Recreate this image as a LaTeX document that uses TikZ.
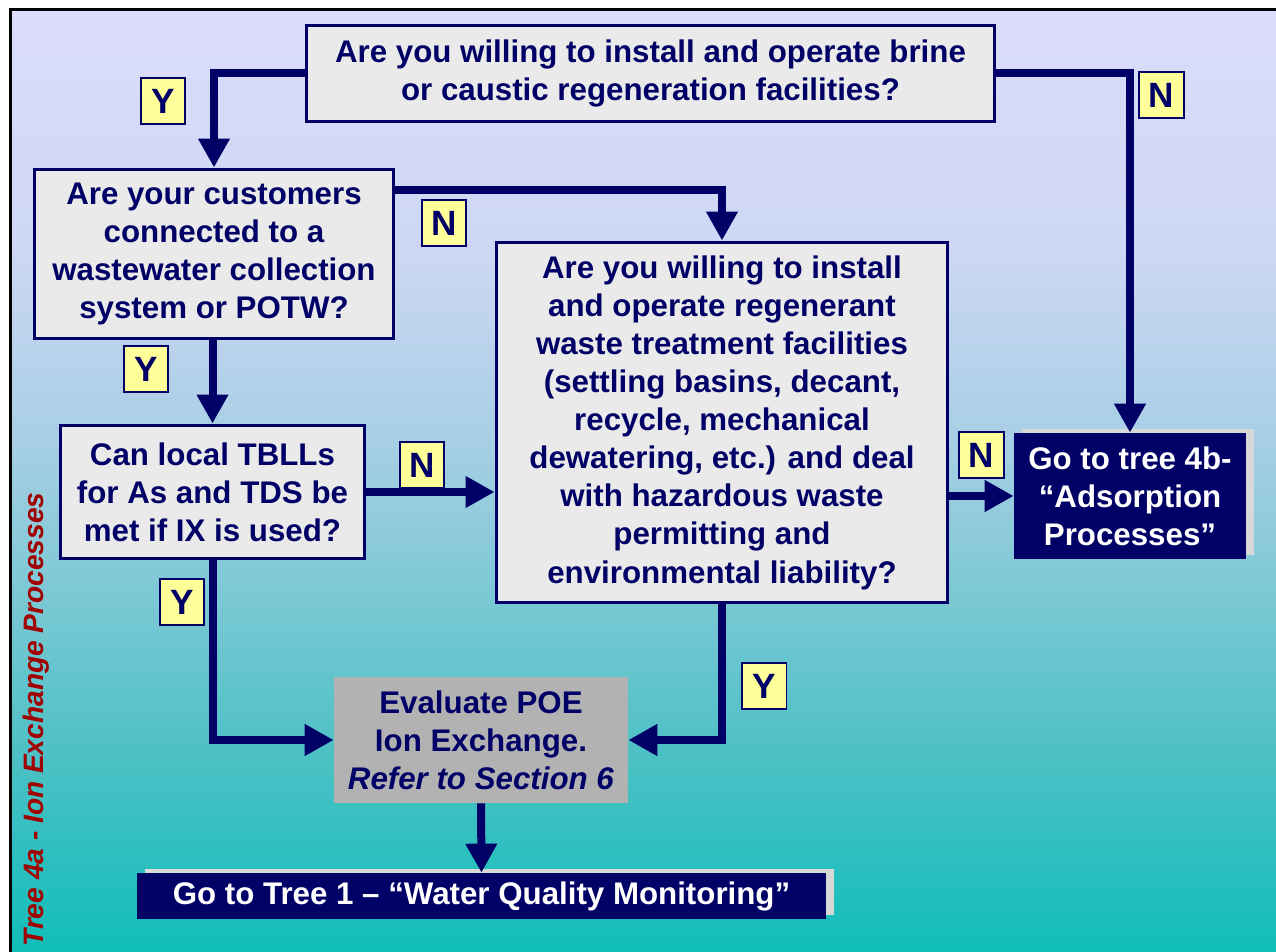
\documentclass[tikz,border=0pt]{standalone}
\usepackage{fontspec}
\setmainfont{Liberation Sans}
\usepackage{xcolor}
\usepackage{tikz}
\usetikzlibrary{arrows.meta,positioning,calc,shadows}
\definecolor{navy}{RGB}{0,0,102}
\definecolor{qgray}{RGB}{234,234,234}
\definecolor{evalgray}{RGB}{178,178,178}
\definecolor{lblyellow}{RGB}{255,255,153}
\definecolor{shadowgray}{RGB}{216,216,216}
\definecolor{sidered}{RGB}{160,0,0}
\definecolor{bgA}{RGB}{220,220,252}
\definecolor{bgB}{RGB}{205,215,245}
\definecolor{bgC}{RGB}{165,206,228}
\definecolor{bgD}{RGB}{122,200,212}
\definecolor{bgE}{RGB}{72,192,196}
\definecolor{bgF}{RGB}{16,190,186}
\pgfdeclareverticalshading{bgfade}{100bp}{color(0bp)=(bgF); color(25bp)=(bgF);
  color(34.7bp)=(bgE); color(43.7bp)=(bgD); color(51.6bp)=(bgC);
  color(62.3bp)=(bgB); color(75bp)=(bgA); color(100bp)=(bgA)}
\tikzset{
  qbox/.style={draw=navy, line width=0.06cm, fill=qgray, text=navy, inner sep=0pt, align=center},
  evalbox/.style={fill=evalgray, text=navy, inner sep=0pt, align=center},
  gobox/.style={fill=navy, text=white, inner sep=0pt, align=center,
    drop shadow={shadow xshift=4.5pt, shadow yshift=2.3pt, fill=shadowgray, opacity=1}},
  lbl/.style={draw=navy, line width=0.04cm, fill=lblyellow, text=navy, inner sep=0pt,
    minimum width=0.9cm, minimum height=0.92cm, font=\fontsize{20}{24}\selectfont\bfseries},
  arr/.style={-{Triangle[width=0.6cm, length=0.58cm]}, navy, line width=0.16cm},
}

\begin{document}
\begin{tikzpicture}[x=0.02cm, y=-0.02cm, font=\fontsize{17.8}{21.7}\selectfont\bfseries]
  \useasboundingbox (0,0) rectangle (1276,952);
  \fill[white] (0,0) rectangle (1276,952);
  \shade[shading=bgfade] (11,10) rectangle (1276,952);
  \draw[black, line width=0.07cm] (10.5,970) |- (1290,9.5);

  \node[qbox, minimum width=13.78cm, minimum height=1.94cm] (q1) at (650.5,73.5)
    {Are you willing to install and operate brine\\or caustic regeneration facilities?};
  \node[qbox, minimum width=7.2cm, minimum height=3.4cm] (q2) at (214,254)
    {Are your customers\\connected to a\\wastewater collection\\system or POTW?};
  \node[qbox, minimum width=6.1cm, minimum height=2.68cm] (q3) at (212.5,492)
    {Can local TBLLs\\for As and TDS be\\met if IX is used?};
  \node[qbox, minimum width=9.04cm, minimum height=7.22cm] (q4) at (722,422.5)
    {Are you willing to install\\and operate regenerant\\waste treatment facilities\\(settling basins, decant,\\recycle, mechanical\\dewatering, etc.) and deal\\with hazardous waste\\permitting and\\environmental liability?};
  \node[evalbox, minimum width=5.88cm, minimum height=2.52cm] (eval) at (481,740)
    {Evaluate POE\\Ion Exchange.\\\textit{Refer to Section 6}};
  \node[gobox, minimum width=4.64cm, minimum height=2.52cm] (go4b) at (1130,496)
    {Go to tree 4b-\\“Adsorption\\Processes”};
  \node[gobox, minimum width=13.78cm, minimum height=0.92cm] (go1) at (481.5,896)
    {Go to Tree 1 – “Water Quality Monitoring”};

  \node[rotate=90, anchor=base west, inner sep=0pt, text=sidered,
    font=\fontsize{16}{19}\selectfont\bfseries\itshape] (side) at (43,947)
    {Tree 4a - Ion Exchange Processes};

  \draw[arr] (q1.west) -| (q2.north);
  \draw[arr] (q1.east) -| (go4b.north);
  \draw[arr] ($(q2.north east)+(0,22)$) -| (q4.north);
  \draw[arr] (q3.north |- q2.south) -- (q3.north);
  \draw[arr] (q3.east) -- (q3.east -| q4.west);
  \draw[arr] (q3.south) |- (eval.west);
  \draw[arr] (q4.south) |- (eval.east);
  \draw[arr] (q4.east |- go4b.west) -- (go4b.west);
  \draw[arr] (eval.south) -- (go1.north);

  \node[lbl] (y1) at (163,101) {Y};
  \node[lbl] (n1) at (1161,95) {N};
  \node[lbl] (n2) at (444,223) {N};
  \node[lbl] (y2) at (146,369) {Y};
  \node[lbl] (n3) at (422,465) {N};
  \node[lbl] (y3) at (182,602) {Y};
  \node[lbl] (n4) at (981,455) {N};
  \node[lbl] (y4) at (764,686) {Y};
\end{tikzpicture}
\end{document}
